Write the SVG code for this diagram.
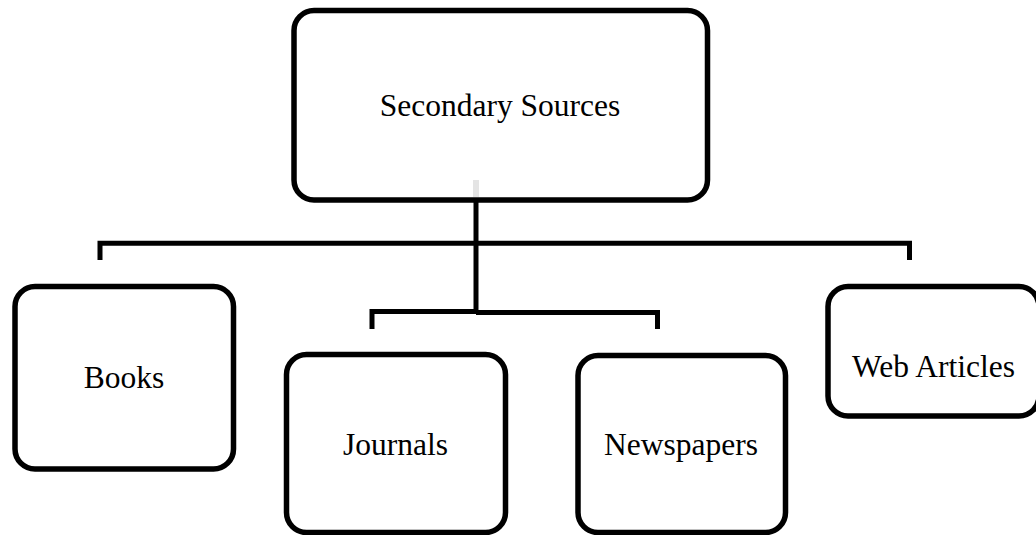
<svg xmlns="http://www.w3.org/2000/svg" width="1036" height="535" viewBox="0 0 1036 535">
  <style>
    .box { fill: #ffffff; stroke: #000000; stroke-width: 5.5; }
    .label { font-family: "Liberation Serif", "Times New Roman", serif; font-size: 31.5px; fill: #000000; text-anchor: middle; }
    .wire { fill: none; stroke: #000000; stroke-width: 5; stroke-linejoin: miter; stroke-linecap: butt; }
  </style>
  <rect width="1036" height="535" fill="#ffffff"/>

  <g id="node-secondary-sources">
    <rect class="box" x="294" y="10.5" width="413.5" height="189.5" rx="20" ry="20"/>
    <text class="label" x="500" y="116">Secondary Sources</text>
  </g>

  <g id="connectors">
    <!-- faint stub inside the root box, above its bottom edge -->
    <rect x="473" y="180" width="6" height="17" fill="#e4e4e4"/>
    <!-- trunk from the root box -->
    <path class="wire" d="M476 200 V312"/>
    <!-- outer bracket: Books and Web Articles -->
    <path class="wire" d="M100 260 V243.3 H909.5 V260"/>
    <!-- inner bracket: Journals and Newspapers -->
    <path class="wire" d="M372 329 V311.5 H476"/>
    <path class="wire" d="M476 312.5 H657.5 V329"/>
  </g>

  <g id="node-books">
    <rect class="box" x="15" y="286.5" width="218.5" height="182.5" rx="20" ry="20"/>
    <text class="label" x="124" y="388">Books</text>
  </g>

  <g id="node-journals">
    <rect class="box" x="286.5" y="354.5" width="219" height="178" rx="20" ry="20"/>
    <text class="label" x="395.5" y="455">Journals</text>
  </g>

  <g id="node-newspapers">
    <rect class="box" x="578" y="355.5" width="207.5" height="177" rx="20" ry="20"/>
    <text class="label" x="681" y="455">Newspapers</text>
  </g>

  <g id="node-web-articles">
    <rect class="box" x="828" y="286.5" width="211" height="129.5" rx="20" ry="20"/>
    <text class="label" x="933.5" y="377">Web Articles</text>
  </g>
</svg>
